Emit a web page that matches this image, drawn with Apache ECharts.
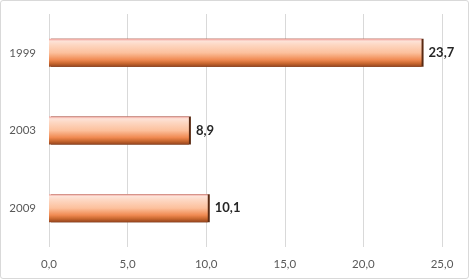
<!DOCTYPE html>
<html>
<head>
<meta charset="utf-8">
<script src="https://cdn.jsdelivr.net/npm/echarts@6/dist/echarts.min.js"></script>
<style>
html,body{margin:0;padding:0;background:#fff;}
#c{width:469px;height:279px;box-sizing:border-box;border:1px solid #d9d9d9;border-radius:3px;}
</style>
</head>
<body>
<div id="c"></div>
<script>
var categories = ['1999', '2003', '2009'];
var values = [23.7, 8.9, 10.1];
var xTicks = { min: 0, max: 25, interval: 5 };

function fmt(v) { return Number(v).toFixed(1).replace('.', ','); }

var chart = echarts.init(document.getElementById('c'), null, { renderer: 'canvas' });
chart.setOption({
  animation: false,
  textStyle: { fontFamily: 'Lato' },
  grid: { left: 48, right: 26, top: 13, bottom: 31, containLabel: false },
  xAxis: {
    type: 'value',
    min: xTicks.min, max: xTicks.max, interval: xTicks.interval,
    axisLine: { show: false },
    axisTick: { show: false },
    splitLine: { show: true, lineStyle: { color: '#d9d9d9', width: 1 } },
    axisLabel: { formatter: fmt, color: '#595959', fontSize: 11.5, margin: 11, fontFamily: 'Lato' }
  },
  yAxis: {
    type: 'category',
    data: categories,
    inverse: true,
    axisLine: { show: false },
    axisTick: { show: false },
    splitLine: { show: false },
    axisLabel: { color: '#595959', fontSize: 11.5, margin: 13, fontFamily: 'Lato' }
  },
  series: [{
    type: 'bar',
    data: values,
    barWidth: '36%',
    itemStyle: {
      color: new echarts.graphic.LinearGradient(0, 0, 0, 1, [
        { offset: 0, color: '#f09c96' },
        { offset: 0.08, color: '#fde3d8' },
        { offset: 0.2, color: '#fdd8c4' },
        { offset: 0.5, color: '#fcc09c' },
        { offset: 0.75, color: '#f08a52' },
        { offset: 0.88, color: '#c8672f' },
        { offset: 1, color: '#93431d' }
      ]),
      shadowColor: '#5a2a12',
      shadowOffsetX: 2,
      shadowOffsetY: 0,
      shadowBlur: 0
    },
    label: {
      show: true,
      position: 'right',
      distance: 7,
      formatter: function (p) { return fmt(p.value); },
      color: '#262626',
      fontWeight: 'bold',
      fontSize: 13,
      fontFamily: 'Lato'
    }
  }]
});
</script>
</body>
</html>
